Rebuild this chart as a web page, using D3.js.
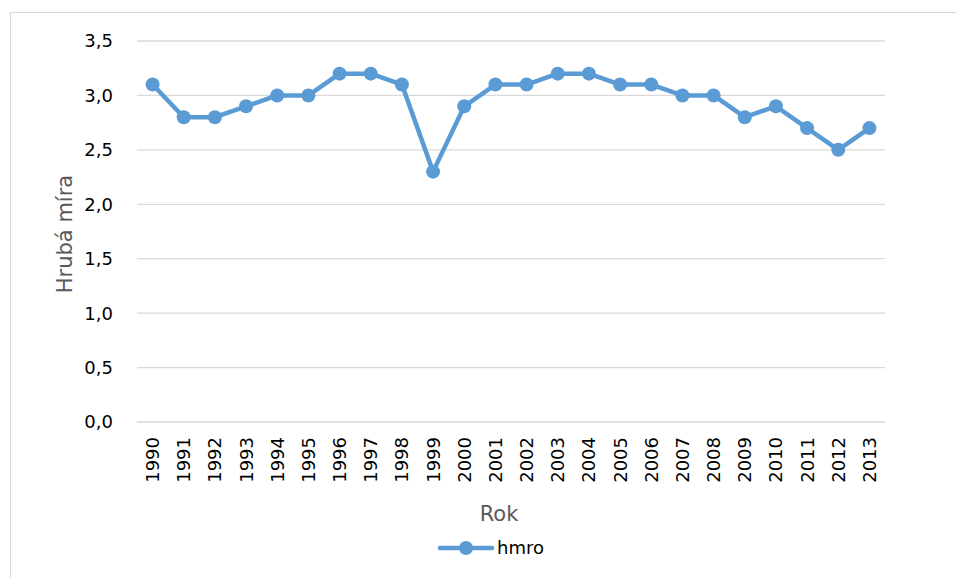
<!DOCTYPE html>
<html>
<head>
<meta charset="utf-8">
<script src="https://cdn.jsdelivr.net/npm/d3@7"></script>
<style>
  body { margin: 0; background: #fff; }
  text { font-family: "DejaVu Sans", sans-serif; }
</style>
</head>
<body>
<div id="chart"></div>
<script>
// DATA
const years = ["1990","1991","1992","1993","1994","1995","1996","1997","1998","1999","2000","2001",
  "2002","2003","2004","2005","2006","2007","2008","2009","2010","2011","2012","2013"];
const hmro = [3.1, 2.8, 2.8, 2.9, 3.0, 3.0, 3.2, 3.2, 3.1, 2.3, 2.9, 3.1,
  3.1, 3.2, 3.2, 3.1, 3.1, 3.0, 3.0, 2.8, 2.9, 2.7, 2.5, 2.7];
const yTicks = [0, 0.5, 1, 1.5, 2, 2.5, 3, 3.5];
const seriesName = "hmro";

const W = 956, H = 578;
const plot = { left: 137, right: 885, top: 41, bottom: 422 };
const blue = "#5B9BD5";

const svg = d3.select("#chart").append("svg")
  .attr("width", W).attr("height", H);

// chart border
svg.append("rect")
  .attr("x", 10.5).attr("y", 12.5)
  .attr("width", W).attr("height", H)
  .attr("fill", "none").attr("stroke", "#d9d9d9");

const x = d3.scaleBand().domain(years).range([plot.left, plot.right]);
const y = d3.scaleLinear().domain([0, 3.5]).range([plot.bottom, plot.top]);
const fmt = d => d3.format(".1f")(d).replace(".", ",");

// gridlines
svg.append("g").selectAll("line")
  .data(yTicks)
  .join("line")
  .attr("x1", plot.left).attr("x2", plot.right)
  .attr("y1", d => y(d)).attr("y2", d => y(d))
  .attr("stroke", "#d9d9d9").attr("stroke-width", 1.3);

// y labels
svg.append("g").selectAll("text")
  .data(yTicks)
  .join("text")
  .attr("x", 113).attr("y", d => y(d))
  .attr("dy", "0.36em")
  .attr("text-anchor", "end")
  .attr("font-size", 18)
  .attr("fill", "#000")
  .text(fmt);

// x labels
svg.append("g").selectAll("text")
  .data(years)
  .join("text")
  .attr("transform", d => `translate(${x(d) + x.bandwidth() / 2},437) rotate(-90)`)
  .attr("dy", "0.36em")
  .attr("text-anchor", "end")
  .attr("font-size", 18)
  .attr("fill", "#000")
  .text(d => d);

// axis titles
svg.append("text")
  .attr("transform", `translate(72,234) rotate(-90)`)
  .attr("text-anchor", "middle")
  .attr("font-size", 21)
  .attr("fill", "#595959")
  .text("Hrubá míra");

svg.append("text")
  .attr("x", 499).attr("y", 521)
  .attr("text-anchor", "middle")
  .attr("font-size", 21)
  .attr("fill", "#595959")
  .text("Rok");

// line
const line = d3.line()
  .x((d, i) => x(years[i]) + x.bandwidth() / 2)
  .y(d => y(d));

svg.append("path")
  .datum(hmro)
  .attr("d", line)
  .attr("fill", "none")
  .attr("stroke", blue)
  .attr("stroke-width", 4.5)
  .attr("stroke-linejoin", "round")
  .attr("stroke-linecap", "round");

svg.append("g").selectAll("circle")
  .data(hmro)
  .join("circle")
  .attr("cx", (d, i) => x(years[i]) + x.bandwidth() / 2)
  .attr("cy", d => y(d))
  .attr("r", 7)
  .attr("fill", blue);

// legend
const lg = svg.append("g").attr("transform", "translate(0,548)");
lg.append("line")
  .attr("x1", 440).attr("x2", 492)
  .attr("stroke", blue).attr("stroke-width", 4.5)
  .attr("stroke-linecap", "round");
lg.append("circle").attr("cx", 466).attr("r", 7).attr("fill", blue);
lg.append("text")
  .attr("x", 497).attr("dy", "0.36em")
  .attr("font-size", 18).attr("fill", "#000")
  .text(seriesName);
</script>
</body>
</html>
